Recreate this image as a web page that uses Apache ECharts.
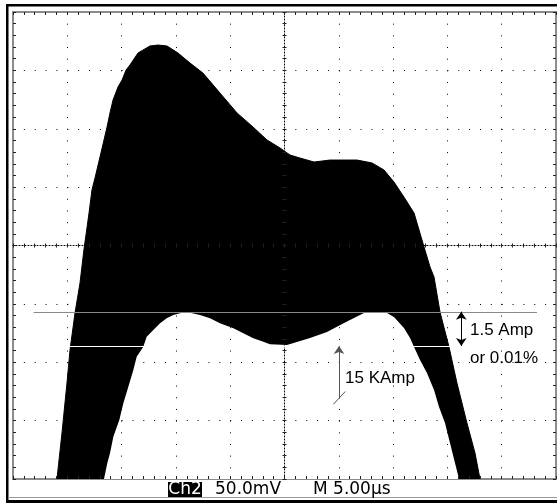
<!DOCTYPE html>
<html>
<head>
<meta charset="utf-8">
<script src="https://cdn.jsdelivr.net/npm/echarts@6/dist/echarts.min.js"></script>
<style>
html, body { margin: 0; padding: 0; background: #fff; }
#scope { width: 557px; height: 503px; }
</style>
</head>
<body>
<div id="scope"></div>
<script>
// trace envelope: time in µs (5 µs/div), level in mV (50 mV/div)
var upperTime = [4.05, 4.51, 4.97, 5.25, 5.71, 6.17, 6.54, 6.81, 7.00, 7.27, 7.55, 8.01, 8.38, 8.66, 8.93, 9.21, 9.67, 10.04, 10.41, 10.77,
  11.51, 11.97, 12.61, 13.35, 14.18, 15.19, 16.30, 17.49, 19.06, 20.63, 22.10, 23.39, 24.59, 25.51, 26.43, 27.72, 29.19, 31.68, 33.06, 34.16,
  35.08, 36.00, 36.93, 37.85, 38.40, 38.77, 39.32, 40.15, 40.88, 41.80, 42.54, 43.00];
var upperVolt = [-200, -160.6, -117.8, -89.5, -57.8, -32.1, -3.0, 15.0, 27.8, 47.5, 57.8, 75.8, 90.4, 101.5, 113.5, 124.6, 135.8, 141.7, 150.3, 154.6,
  164.9, 167.4, 170.9, 171.7, 170.9, 164.9, 156.3, 147.7, 130.6, 113.5, 101.5, 90.4, 83.5, 77.5, 74.9, 71.5, 73.2, 73.2, 70.7, 64.7,
  54.4, 41.5, 27.8, -1.3, -18.4, -27.0, -57.0, -86.9, -117.8, -152.0, -177.7, -200];

var lowerTime = [8.38, 8.68, 8.93, 9.24, 9.79, 10.16, 10.62, 11.08, 11.39, 12.00, 12.31, 12.92, 13.54, 14.15, 14.76, 15.56, 16.30, 17.22, 18.14, 19.06,
  20.29, 21.21, 22.13, 23.05, 23.66, 25.23, 27.35, 28.91, 30.48, 31.95, 32.32, 33.33, 34.44, 35.08, 36.00, 36.56, 36.93, 37.48, 38.12, 38.77,
  39.23, 39.78, 40.24, 40.70, 41.07];
var lowerVolt = [-200, -186.5, -178.0, -163.8, -149.5, -135.2, -120.9, -106.6, -95.2, -86.7, -78.1, -72.4, -66.6, -62.4, -59.5, -57.6, -57.6, -59.5, -62.4, -66.6,
  -70.9, -75.2, -79.5, -82.4, -84.6, -85.2, -79.2, -74.1, -66.4, -59.5, -57.8, -57.6, -57.8, -61.2, -70.6, -79.2, -86.9, -98.1, -109.2, -123.8,
  -138.3, -152.0, -169.2, -186.3, -200];

// horizontal cursors and the annotation arrows
var cursorLevel = [-56.7, -86.1];
var cursorSpan = [1.9, 48.25];
var arrowTime = [41.28, 30.02];
var kampFoot = -131;
var breakTick = [[29.5, -136], [30.6, -125]];

function pairs(xs, ys) {
  var out = [];
  for (var i = 0; i < xs.length; i++) out.push([xs[i], ys[i]]);
  return out;
}

function axis(dim, pos, offset, len, inside, main, showLine) {
  return {
    type: 'value',
    position: pos,
    offset: offset,
    z: 3,
    min: dim == 'x' ? 0 : -200,
    max: dim == 'x' ? 50 : 200,
    interval: dim == 'x' ? 5 : 50,
    axisLine: { show: showLine, onZero: false, lineStyle: { color: '#000', width: 1, type: [1, 2] } },
    axisTick: { show: true, inside: inside, length: len, lineStyle: { color: '#222' } },
    minorTick: { show: true, splitNumber: 5, length: len, lineStyle: { color: '#222' } },
    axisLabel: { show: false },
    splitLine: {
      show: main, showMinLine: false, showMaxLine: false,
      lineStyle: { color: '#000', width: 1, type: dim == 'x' ? [1, 10.675] : [1, 9.86] }
    }
  };
}

var myChart = echarts.init(document.getElementById('scope'));

var txt = '17px "Liberation Sans", Arial, sans-serif';
var scr = '17px "DejaVu Sans", sans-serif';

option = {
  animation: false,
  backgroundColor: '#fff',
  grid: { left: 13, right: 1, top: 12, bottom: 24, show: true, borderColor: '#8c8c8c', borderWidth: 2, backgroundColor: 'transparent' },
  xAxis: [
    axis('x', 'bottom', 0, 3, true, true, false),
    axis('x', 'top', 0, 3, true, false, false),
    axis('x', 'bottom', -233.5, 2, false, false, true),
    axis('x', 'top', -233.5, 2, false, false, false)
  ],
  yAxis: [
    axis('y', 'left', 0, 3, true, true, false),
    axis('y', 'right', 0, 3, true, false, false),
    axis('y', 'left', -271.5, 2, false, false, true),
    axis('y', 'right', -271.5, 2, false, false, false)
  ],
  series: [
    {
      type: 'line',
      data: pairs(upperTime, upperVolt),
      symbol: 'none',
      lineStyle: { color: '#000', width: 1 },
      areaStyle: { color: '#000', opacity: 1, origin: 'start' },
      z: 1
    },
    {
      type: 'line',
      data: pairs(lowerTime, lowerVolt),
      symbol: 'none',
      lineStyle: { color: '#fff', width: 0 },
      areaStyle: { color: '#fff', opacity: 1, origin: 'start' },
      z: 2
    },
    {
      type: 'custom',
      z: 4,
      clip: false,
      data: cursorLevel.map(function (v) { return [cursorSpan[0], cursorSpan[1], v]; }),
      encode: { x: [0, 1], y: 2 },
      renderItem: function (params, api) {
        var a = api.coord([api.value(0), api.value(2)]);
        var b = api.coord([api.value(1), api.value(2)]);
        var y = Math.round(a[1]) + 0.5;
        return {
          type: 'line',
          shape: { x1: a[0], y1: y, x2: b[0], y2: y },
          style: { stroke: params.dataIndex === 0 ? '#888' : '#fff', lineWidth: 1, blend: 'difference' }
        };
      },
      markLine: {
        silent: true,
        animation: false,
        symbolSize: 8,
        label: { show: false },
        lineStyle: { color: '#000', width: 1, type: 'solid' },
        data: [
          [{ coord: [arrowTime[0], cursorLevel[0]], symbol: 'arrow' }, { coord: [arrowTime[0], cursorLevel[1]], symbol: 'arrow' }],
          [{ coord: [arrowTime[1], cursorLevel[1]], symbol: 'arrow', lineStyle: { color: '#555' } }, { coord: [arrowTime[1], kampFoot], symbol: 'none' }],
          [{ coord: breakTick[0], symbol: 'none', lineStyle: { color: '#555' } }, { coord: breakTick[1], symbol: 'none' }]
        ]
      }
    }
  ],
  graphic: [
    { type: 'rect', z: 10, shape: { x: 6, y: 4, width: 551, height: 2.5 }, style: { fill: '#000' } },
    { type: 'rect', z: 10, shape: { x: 6, y: 4, width: 2.5, height: 499 }, style: { fill: '#000' } },
    { type: 'rect', z: 10, shape: { x: 6, y: 500, width: 551, height: 3 }, style: { fill: '#000' } },
    { type: 'rect', z: 10, shape: { x: 8, y: 497, width: 549, height: 1 }, style: { fill: '#999' } },
    { type: 'rect', z: 10, shape: { x: 168, y: 482, width: 34, height: 15 }, style: { fill: '#000' } },
    { type: 'text', z: 11, x: 185, y: 490, style: { text: 'Ch2', fill: '#fff', font: scr, align: 'center', textAlign: 'center', verticalAlign: 'middle', textVerticalAlign: 'middle' } },
    { type: 'text', z: 11, x: 215, y: 490, style: { text: '50.0mV', fill: '#000', font: scr, verticalAlign: 'middle', textVerticalAlign: 'middle' } },
    { type: 'text', z: 11, x: 313, y: 490, style: { text: 'M 5.00µs', fill: '#000', font: scr, verticalAlign: 'middle', textVerticalAlign: 'middle' } },
    { type: 'text', z: 11, x: 470, y: 330, style: { text: '1.5 Amp', fill: '#000', font: txt, verticalAlign: 'middle', textVerticalAlign: 'middle' } },
    { type: 'text', z: 11, x: 470, y: 358, style: { text: 'or 0.01%', fill: '#000', font: txt, verticalAlign: 'middle', textVerticalAlign: 'middle' } },
    { type: 'text', z: 11, x: 345, y: 378, style: { text: '15 KAmp', fill: '#000', font: txt, verticalAlign: 'middle', textVerticalAlign: 'middle' } }
  ]
};

myChart.setOption(option);
</script>
</body>
</html>
